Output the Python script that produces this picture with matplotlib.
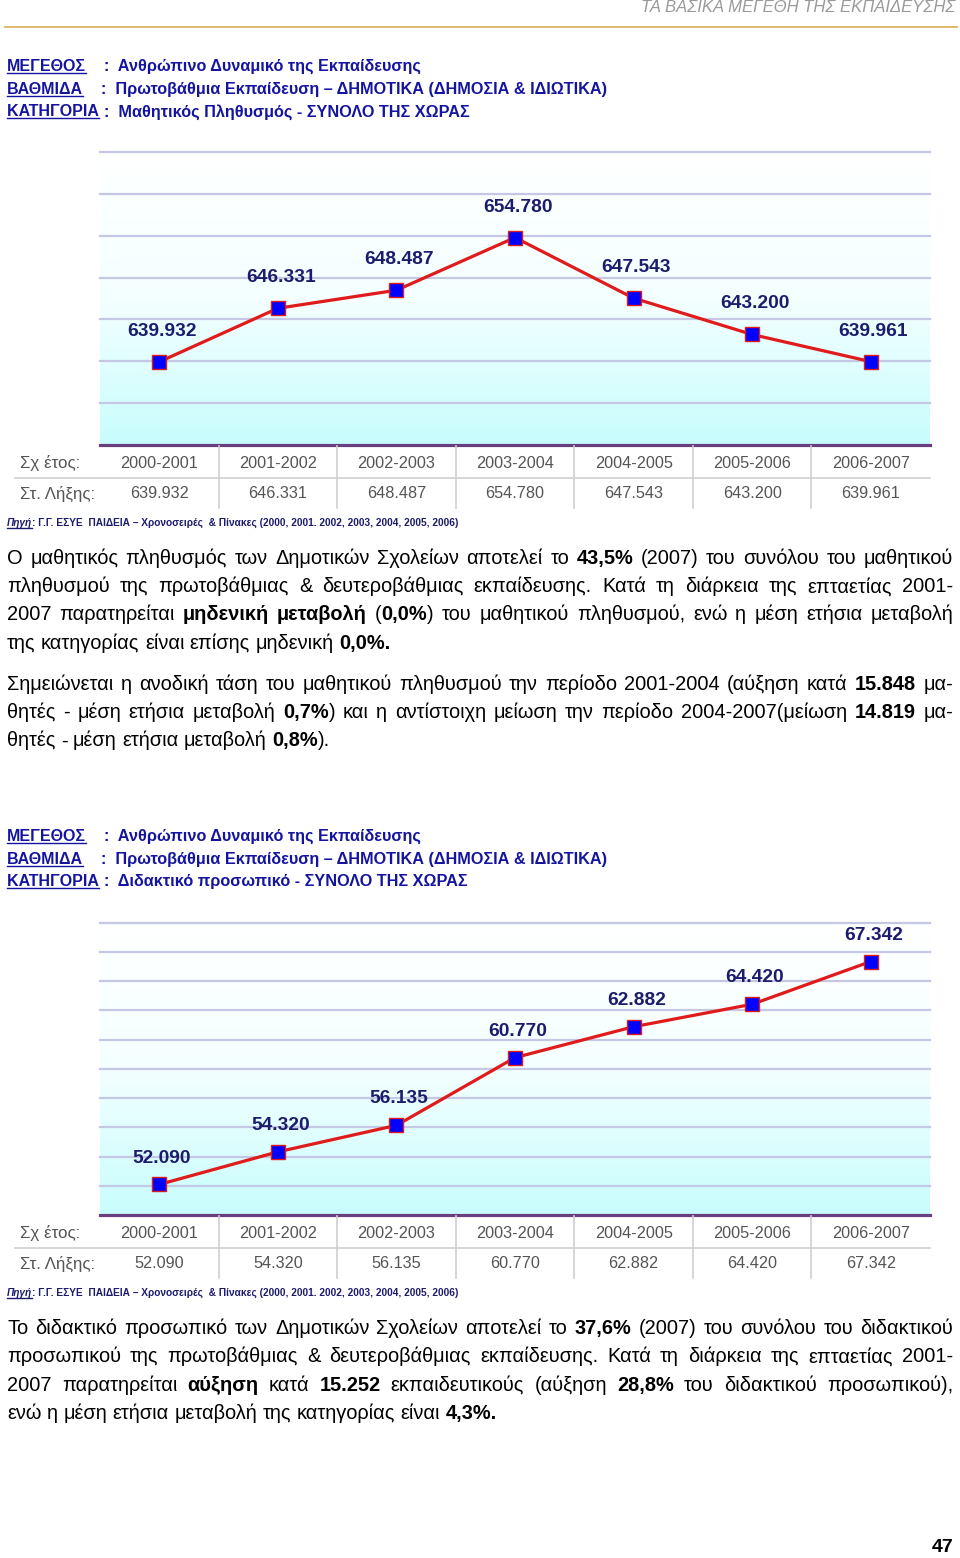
import matplotlib
matplotlib.use('Agg')
import matplotlib.pyplot as plt
from matplotlib.lines import Line2D
from matplotlib.colors import LinearSegmentedColormap
import numpy as np

plt.rcParams['font.family'] = ['Liberation Sans', 'DejaVu Sans']

# data
years = ['2000-2001', '2001-2002', '2002-2003', '2003-2004',
         '2004-2005', '2005-2006', '2006-2007']
pupils = [639932, 646331, 648487, 654780, 647543, 643200, 639961]
teachers = [52090, 54320, 56135, 60770, 62882, 64420, 67342]

head1 = ['Ανθρώπινο Δυναμικό της Εκπαίδευσης',
         'Πρωτοβάθμια Εκπαίδευση – ΔΗΜΟΤΙΚΑ (ΔΗΜΟΣΙΑ & ΙΔΙΩΤΙΚΑ)',
         'Μαθητικός Πληθυσμός - ΣΥΝΟΛΟ ΤΗΣ ΧΩΡΑΣ']
head2 = ['Ανθρώπινο Δυναμικό της Εκπαίδευσης',
         'Πρωτοβάθμια Εκπαίδευση – ΔΗΜΟΤΙΚΑ (ΔΗΜΟΣΙΑ & ΙΔΙΩΤΙΚΑ)',
         'Διδακτικό προσωπικό - ΣΥΝΟΛΟ ΤΗΣ ΧΩΡΑΣ']

text1 = ['Ο μαθητικός πληθυσμός των Δημοτικών Σχολείων αποτελεί το **43,5%** (2007) του συνόλου του μαθητικού',
         'πληθυσμού της πρωτοβάθμιας & δευτεροβάθμιας εκπαίδευσης. Κατά τη διάρκεια της επταετίας 2001-',
         '2007 παρατηρείται **μηδενική μεταβολή** (**0,0%**) του μαθητικού πληθυσμού, ενώ η μέση ετήσια μεταβολή',
         'της κατηγορίας είναι επίσης μηδενική **0,0%.**']
text2 = ['Σημειώνεται η ανοδική τάση του μαθητικού πληθυσμού την περίοδο 2001-2004 (αύξηση κατά **15.848** μα-',
         'θητές - μέση ετήσια μεταβολή **0,7%**) και η αντίστοιχη μείωση την περίοδο 2004-2007(μείωση **14.819** μα-',
         'θητές - μέση ετήσια μεταβολή **0,8%**).']
text3 = ['Το διδακτικό προσωπικό των Δημοτικών Σχολείων αποτελεί το **37,6%** (2007) του συνόλου του διδακτικού',
         'προσωπικού της πρωτοβάθμιας & δευτεροβάθμιας εκπαίδευσης. Κατά τη διάρκεια της επταετίας 2001-',
         '2007 παρατηρείται **αύξηση** κατά **15.252** εκπαιδευτικούς (αύξηση **28,8%** του διδακτικού προσωπικού),',
         'ενώ η μέση ετήσια μεταβολή της κατηγορίας είναι **4,3%.**']

source = ': Γ.Γ. ΕΣΥΕ  ΠΑΙΔΕΙΑ – Χρονοσειρές  & Πίνακες (2000, 2001. 2002, 2003, 2004, 2005, 2006)'

W, H = 960, 1558
fig = plt.figure(figsize=(9.6, 15.58), dpi=100)
renderer = fig.canvas.get_renderer()

NAVY = '#1c1c6c'
BLUE = '#1414a0'
GRAY = '#555555'


def fx(x):
    return x / W


def fy(y):
    return 1 - y / H


def hline(x0, x1, y, **kw):
    fig.add_artist(Line2D([fx(x0), fx(x1)], [fy(y), fy(y)], transform=fig.transFigure, **kw))


def width(s, size, weight='normal', style='normal'):
    t = fig.text(0, 0, s, fontsize=size, fontweight=weight, fontstyle=style)
    w = t.get_window_extent(renderer).width
    t.remove()
    return w


def underlined(x, y, s, size, color, weight='bold', style='normal'):
    fig.text(fx(x), fy(y), s, fontsize=size, fontweight=weight, fontstyle=style,
             color=color, va='baseline')
    w = width(s.rstrip(), size, weight, style)
    hline(x, x + w, y + 2, color=color, lw=1)


def paragraph(lines, y0, step, size=14.4, left=7, right=953):
    space = width('a a', size) - width('aa', size)
    for i, line in enumerate(lines):
        y = y0 + i * step
        bold = False
        words = []
        for raw in line.split(' '):
            runs = []
            for j, p in enumerate(raw.split('**')):
                if j > 0:
                    bold = not bold
                if p:
                    runs.append((p, 'bold' if bold else 'normal'))
            words.append(runs)
        ws = [sum(width(p, size, b) for p, b in r) for r in words]
        if i < len(lines) - 1 and len(words) > 1:
            gap = (right - left - sum(ws)) / (len(words) - 1)
        else:
            gap = space
        x = left
        for runs, w in zip(words, ws):
            xr = x
            for p, b in runs:
                fig.text(fx(xr), fy(y), p, fontsize=size, fontweight=b, va='baseline')
                xr += width(p, size, b)
            x += w + gap


def header_block(y0, items):
    labels = ['ΜΕΓΕΘΟΣ', 'ΒΑΘΜΙΔΑ', 'ΚΑΤΗΓΟΡΙΑ ']
    xs = [104, 101, 104]
    for i, (lab, val) in enumerate(zip(labels, items)):
        y = y0 + i * 22.7
        underlined(7, y, lab, 11.5, BLUE)
        fig.text(fx(xs[i]), fy(y), ':  ' + val, fontsize=11.7, fontweight='bold',
                 color=BLUE, va='baseline')


def fmt(v):
    return f'{v:,}'.replace(',', '.')


def line_chart(top, bottom, values, ylo, yhi, ystep, off):
    ax = fig.add_axes([fx(100), fy(bottom), fx(930) - fx(100), (bottom - top) / H])
    n = len(values)
    x = np.arange(n)
    ax.set_xlim(-0.5, n - 0.5)
    ax.set_ylim(ylo, yhi)
    cmap = LinearSegmentedColormap.from_list('g', ['#c8fdfd', '#f4ffff', '#ffffff'])
    grad = np.linspace(0, 1, 256).reshape(-1, 1)
    ax.imshow(grad, extent=[-0.5, n - 0.5, ylo, yhi], aspect='auto', cmap=cmap,
              origin='lower', zorder=0)
    for yv in np.arange(ylo + ystep, yhi + 1, ystep):
        ax.axhline(yv, color='#c5c8e4', lw=1.6, zorder=1, clip_on=False)
    ax.plot(x, values, color='#e01b1b', lw=2.3, marker='s', ms=9.5,
            mfc='#0000ff', mec='#e01b1b', mew=1, zorder=3)
    for xi, v in zip(x, values):
        ax.annotate(fmt(v), (xi, v), xytext=(2, off), textcoords='offset points',
                    ha='center', va='center', fontsize=13.8, fontweight='bold', color=NAVY)
    for s in ['left', 'right', 'top']:
        ax.spines[s].set_visible(False)
    ax.spines['bottom'].set_color('#6a3f80')
    ax.spines['bottom'].set_linewidth(2.3)
    ax.spines['bottom'].set_zorder(4)
    ax.set_xticks([])
    ax.set_yticks([])


def data_table(top, values):
    ax = fig.add_axes([fx(100), fy(top + 65), fx(930) - fx(100), 65 / H])
    n = len(values)
    ax.set_xlim(-0.5, n - 0.5)
    ax.set_ylim(65, 0)
    ax.axis('off')
    for i in range(n - 1):
        ax.plot([i + 0.5, i + 0.5], [1, 63], color='#cfcfcf', lw=1.2)
    for i, (yr, v) in enumerate(zip(years, values)):
        ax.text(i, 18, yr, ha='center', va='center', fontsize=11.7, color=GRAY)
        ax.text(i, 49, fmt(v), ha='center', va='center', fontsize=11.7, color=GRAY)
    hline(15, 930, top + 33, color='#cfcfcf', lw=1.2)
    fig.text(fx(20), fy(top + 18), 'Σχ έτος:', fontsize=12.2, color=GRAY, va='center')
    fig.text(fx(20), fy(top + 49), 'Στ. Λήξης:', fontsize=12.2, color=GRAY, va='center')


def source_line(y):
    underlined(7, y, 'Πηγή', 7.3, NAVY, style='italic')
    w = width('Πηγή', 7.3, 'bold', 'italic')
    fig.text(fx(7 + w), fy(y), source, fontsize=7.3, fontweight='bold', color=NAVY,
             va='baseline')


# page header
fig.text(fx(955), fy(8), 'ΤΑ ΒΑΣΙΚΑ ΜΕΓΕΘΗ ΤΗΣ ΕΚΠΑΙΔΕΥΣΗΣ', fontsize=12, fontstyle='italic',
         color='#9a9a9a', ha='right', va='center')
hline(5, 957, 27, color='#d9b660', lw=1.3)

# first block
header_block(71, head1)
line_chart(152, 445, pupils, 630000, 665000, 5000, 22)
data_table(445, pupils)
source_line(526)
paragraph(text1, 564, 28.2)
paragraph(text2, 690, 28.2)

# second block
header_block(841, head2)
line_chart(922.7, 1215, teachers, 50000, 70000, 2000, 19)
data_table(1215, teachers)
source_line(1296)
paragraph(text3, 1334, 28.3)

fig.text(fx(943), fy(1547), '47', fontsize=14, fontweight='bold', ha='center', va='center')

fig.savefig('out.png', dpi=100)
